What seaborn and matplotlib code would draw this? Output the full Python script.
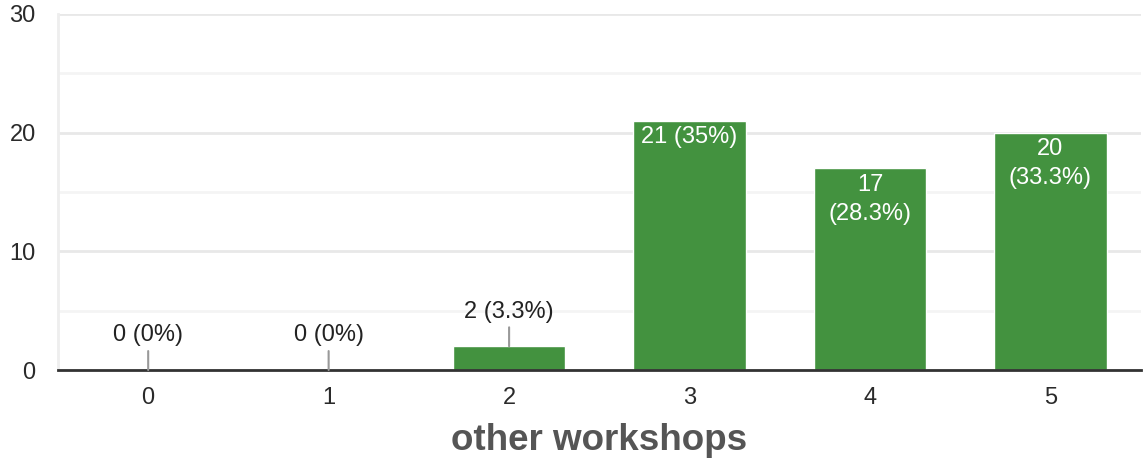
import numpy as np
import matplotlib
matplotlib.use('Agg')
import matplotlib.pyplot as plt
import seaborn as sns

# 数据
ratings = ['0', '1', '2', '3', '4', '5']
counts = [0, 0, 2, 21, 17, 20]
x_title = 'other workshops'

sns.set_theme(style='white')
plt.rcParams['font.family'] = ['Liberation Sans', 'DejaVu Sans']

GREEN = '#43923f'
FS = 17
total = sum(counts)

fig = plt.figure(figsize=(11.43, 4.66), dpi=100)
ax = fig.add_axes([0.0507, 0.206, 0.9473, 0.764])

sns.barplot(x=ratings, y=counts, color=GREEN, saturation=1, width=0.625, ax=ax, zorder=3)

ax.set_ylim(0, 30)
ax.set_xlim(-0.5, len(ratings) - 0.5)
ax.set_yticks([0, 10, 20, 30])
ax.set_yticks([5, 15, 25], minor=True)
ax.grid(axis='y', which='major', color='#e8e8e8', lw=2, zorder=0)
ax.grid(axis='y', which='minor', color='#f4f4f4', lw=2, zorder=0)
ax.grid(axis='x', visible=False)

for side in ['top', 'right']:
    ax.spines[side].set_visible(False)
ax.spines['left'].set_color('#eeeeee')
ax.spines['left'].set_linewidth(2)
ax.spines['bottom'].set_color('#333333')
ax.spines['bottom'].set_linewidth(2)
ax.spines['bottom'].set_zorder(4)

ax.tick_params(axis='both', which='both', length=0, labelsize=FS, colors='#2a2a2a')
ax.tick_params(axis='y', pad=16)
ax.tick_params(axis='x', pad=12)

ax.set_xlabel(x_title, fontsize=26.5, fontweight='bold', color='#555555', labelpad=10)
ax.set_ylabel('')

# 柱状标签
for i, c in enumerate(counts):
    pct = c / total * 100
    pct_s = f'{pct:.1f}'.rstrip('0').rstrip('.')
    one_line = f'{c} ({pct_s}%)'
    if c < 5:
        ax.annotate(one_line, xy=(i, c), xytext=(0, 17), textcoords='offset points',
                    ha='center', va='bottom', fontsize=FS, color='#222222',
                    arrowprops=dict(arrowstyle='-', color='#999999', lw=1.5,
                                    shrinkA=1, shrinkB=0), zorder=5)
    else:
        txt = one_line if len(one_line) <= 8 else f'{c}\n({pct_s}%)'
        ax.annotate(txt, xy=(i, c), xytext=(0, -4), textcoords='offset points',
                    ha='center', va='top', fontsize=FS, color='white',
                    linespacing=1.4, zorder=5)

fig.savefig('out.png', dpi=100)
